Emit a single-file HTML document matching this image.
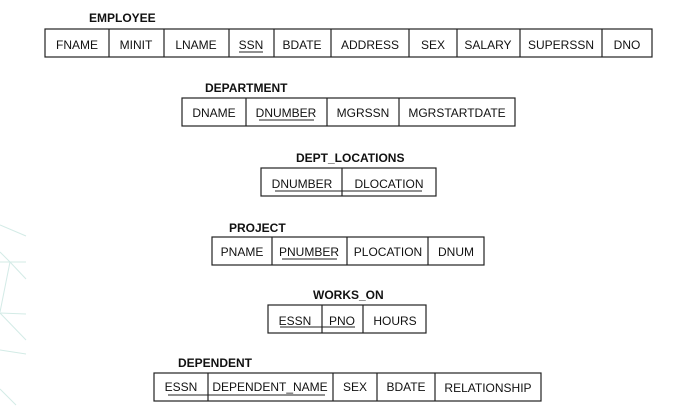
<!DOCTYPE html>
<html><head><meta charset="utf-8"><style>
html,body{margin:0;padding:0;background:#fff;}
svg{display:block;}
text{font-family:"Liberation Sans",sans-serif;fill:#111;}
.t{font-size:12px;font-weight:bold;}
.c{font-size:12px;text-anchor:middle;}
rect,line.d{stroke:#222;stroke-width:1.2;fill:none;}
line.u{stroke:#222;stroke-width:1;}
line.g{stroke:#d3ebe6;stroke-width:1;}
</style></head><body>
<svg width="685" height="406" viewBox="0 0 685 406" xmlns="http://www.w3.org/2000/svg">
<line class="g" x1="0" y1="225" x2="26" y2="236"/>
<line class="g" x1="0" y1="262" x2="26" y2="262"/>
<line class="g" x1="0" y1="252" x2="10" y2="262"/>
<line class="g" x1="10" y1="262" x2="26" y2="279"/>
<line class="g" x1="10" y1="262" x2="0" y2="312"/>
<line class="g" x1="0" y1="313" x2="26" y2="314"/>
<line class="g" x1="0" y1="313" x2="26" y2="340"/>
<line class="g" x1="0" y1="350" x2="26" y2="354"/>
<line class="g" x1="0" y1="389" x2="16" y2="405"/>

<!-- EMPLOYEE -->
<text class="t" x="89" y="22">EMPLOYEE</text>
<rect x="45" y="29" width="607" height="28"/>
<line class="d" x1="109" y1="29" x2="109" y2="57"/><line class="d" x1="164" y1="29" x2="164" y2="57"/>
<line class="d" x1="229" y1="29" x2="229" y2="57"/><line class="d" x1="274" y1="29" x2="274" y2="57"/>
<line class="d" x1="331" y1="29" x2="331" y2="57"/><line class="d" x1="409" y1="29" x2="409" y2="57"/>
<line class="d" x1="457" y1="29" x2="457" y2="57"/><line class="d" x1="520" y1="29" x2="520" y2="57"/>
<line class="d" x1="602" y1="29" x2="602" y2="57"/>
<text class="c" x="77" y="49">FNAME</text><text class="c" x="136" y="49">MINIT</text>
<text class="c" x="196" y="49">LNAME</text><text class="c" x="251" y="49">SSN</text>
<line class="u" x1="239" y1="52" x2="263" y2="52"/>
<text class="c" x="302" y="49">BDATE</text><text class="c" x="370" y="49">ADDRESS</text>
<text class="c" x="433" y="49">SEX</text><text class="c" x="488" y="49">SALARY</text>
<text class="c" x="561" y="49">SUPERSSN</text><text class="c" x="627" y="49">DNO</text>

<!-- DEPARTMENT -->
<text class="t" x="205" y="92">DEPARTMENT</text>
<rect x="182" y="98" width="333" height="28"/>
<line class="d" x1="246" y1="98" x2="246" y2="126"/><line class="d" x1="327" y1="98" x2="327" y2="126"/>
<line class="d" x1="399" y1="98" x2="399" y2="126"/>
<text class="c" x="214" y="117">DNAME</text><text class="c" x="286" y="117">DNUMBER</text>
<line class="u" x1="259" y1="120" x2="314" y2="120"/>
<text class="c" x="363" y="117">MGRSSN</text><text class="c" x="457" y="117">MGRSTARTDATE</text>

<!-- DEPT_LOCATIONS -->
<text class="t" x="296" y="162">DEPT_LOCATIONS</text>
<rect x="261" y="168" width="175" height="28"/>
<line class="d" x1="342" y1="168" x2="342" y2="196"/>
<text class="c" x="302" y="188">DNUMBER</text><text class="c" x="389" y="188">DLOCATION</text>
<line class="u" x1="275" y1="191" x2="422" y2="191"/>

<!-- PROJECT -->
<text class="t" x="229" y="232">PROJECT</text>
<rect x="212" y="237" width="272" height="28"/>
<line class="d" x1="272" y1="237" x2="272" y2="265"/><line class="d" x1="347" y1="237" x2="347" y2="265"/>
<line class="d" x1="428" y1="237" x2="428" y2="265"/>
<text class="c" x="242" y="256">PNAME</text><text class="c" x="309" y="256">PNUMBER</text>
<line class="u" x1="282" y1="259" x2="337" y2="259"/>
<text class="c" x="388" y="256">PLOCATION</text><text class="c" x="456" y="256">DNUM</text>

<!-- WORKS_ON -->
<text class="t" x="313" y="299">WORKS_ON</text>
<rect x="268" y="305" width="158" height="28"/>
<line class="d" x1="322" y1="305" x2="322" y2="333"/><line class="d" x1="363" y1="305" x2="363" y2="333"/>
<text class="c" x="295" y="325">ESSN</text><text class="c" x="342" y="325">PNO</text>
<line class="u" x1="280" y1="327" x2="355" y2="327"/>
<text class="c" x="395" y="325">HOURS</text>

<!-- DEPENDENT -->
<text class="t" x="178" y="367">DEPENDENT</text>
<rect x="154" y="373" width="387" height="28"/>
<line class="d" x1="208" y1="373" x2="208" y2="401"/><line class="d" x1="333" y1="373" x2="333" y2="401"/>
<line class="d" x1="377" y1="373" x2="377" y2="401"/><line class="d" x1="435" y1="373" x2="435" y2="401"/>
<text class="c" x="181" y="391">ESSN</text><text class="c" x="270" y="391">DEPENDENT_NAME</text>
<line class="u" x1="168" y1="395" x2="325" y2="395"/>
<text class="c" x="355" y="391">SEX</text><text class="c" x="406" y="391">BDATE</text>
<text class="c" x="488" y="392">RELATIONSHIP</text>
</svg>
</body></html>
